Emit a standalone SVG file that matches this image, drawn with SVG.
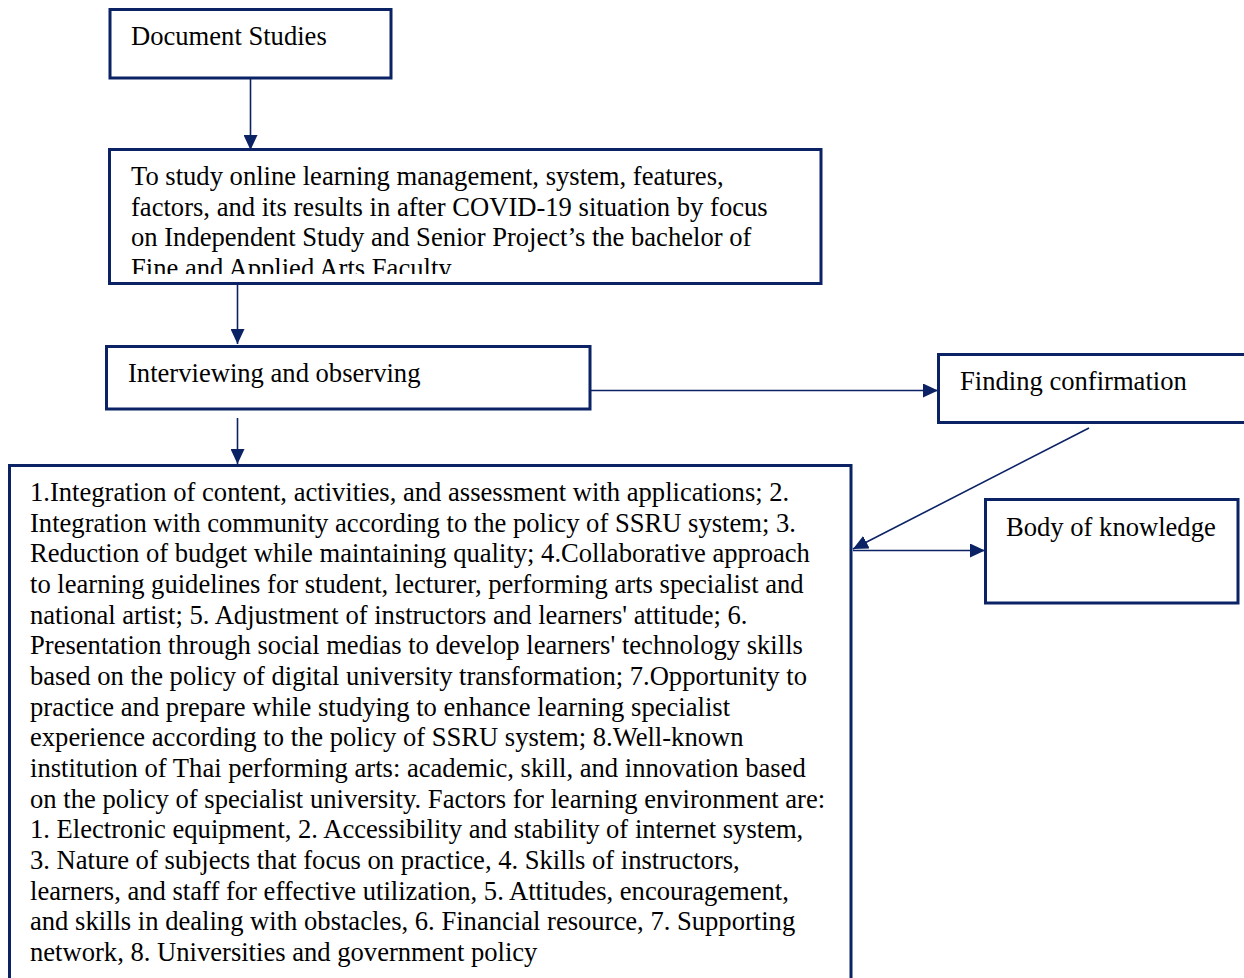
<svg xmlns="http://www.w3.org/2000/svg" width="1244" height="978" viewBox="0 0 1244 978">
<style>
.box{fill:#ffffff;stroke:#0b2265;stroke-width:3}
.t{font-family:"Liberation Serif","Times New Roman",serif;font-size:26.6px;fill:#000000}
.c{fill:none;stroke:#0b2265;stroke-width:1.6}
</style>
<defs>
<marker id="ah" markerUnits="userSpaceOnUse" markerWidth="16" markerHeight="14" refX="15" refY="7" orient="auto">
<path d="M0,0 L15,7 L0,14 Z" fill="#0b2265"/>
</marker>
<clipPath id="clip2"><rect x="110" y="150" width="710" height="124"/></clipPath>
</defs>
<rect width="1244" height="978" fill="#ffffff"/>
<g id="connectors">
<line class="c" x1="250.5" y1="78" x2="250.5" y2="150" marker-end="url(#ah)"/>
<line class="c" x1="237.5" y1="284" x2="237.5" y2="344" marker-end="url(#ah)"/>
<line class="c" x1="237.5" y1="418" x2="237.5" y2="464" marker-end="url(#ah)"/>
<line class="c" x1="590" y1="390.5" x2="938" y2="390.5" marker-end="url(#ah)"/>
<line class="c" x1="1089" y1="428" x2="853" y2="549" marker-end="url(#ah)"/>
<line class="c" x1="853" y1="550.5" x2="985" y2="550.5" marker-end="url(#ah)"/>
</g>
<g id="document-studies">
<rect class="box" x="110" y="9.5" width="281" height="68.5"/>
<text class="t" x="131" y="45">Document Studies</text>
</g>
<g id="to-study">
<rect class="box" x="109.5" y="149.5" width="711.5" height="134"/>
<g clip-path="url(#clip2)">
<text class="t" x="131" y="185">To study online learning management, system, features,</text>
<text class="t" x="131" y="215.5">factors, and its results in after COVID-19 situation by focus</text>
<text class="t" x="131" y="246">on Independent Study and Senior Project’s the bachelor of</text>
<text class="t" x="131" y="276.5">Fine and Applied Arts Faculty</text>
</g>
</g>
<g id="interviewing">
<rect class="box" x="106.5" y="346.5" width="483.5" height="62.5"/>
<text class="t" x="128" y="382">Interviewing and observing</text>
</g>
<g id="finding-confirmation">
<rect class="box" x="938.5" y="354.5" width="320" height="68"/>
<text class="t" x="960" y="390">Finding confirmation</text>
</g>
<g id="body-of-knowledge">
<rect class="box" x="985.5" y="499.5" width="252.5" height="103.5"/>
<text class="t" x="1006" y="536">Body of knowledge</text>
</g>
<g id="results">
<rect class="box" x="9.5" y="465.5" width="841.5" height="530"/>
<text class="t" x="30">
<tspan x="30" y="501">1.Integration of content, activities, and assessment with applications; 2.</tspan>
<tspan x="30" y="531.7">Integration with community according to the policy of SSRU system; 3.</tspan>
<tspan x="30" y="562.3">Reduction of budget while maintaining quality; 4.Collaborative approach</tspan>
<tspan x="30" y="593">to learning guidelines for student, lecturer, performing arts specialist and</tspan>
<tspan x="30" y="623.6">national artist; 5. Adjustment of instructors and learners' attitude; 6.</tspan>
<tspan x="30" y="654.3">Presentation through social medias to develop learners' technology skills</tspan>
<tspan x="30" y="684.9">based on the policy of digital university transformation; 7.Opportunity to</tspan>
<tspan x="30" y="715.6">practice and prepare while studying to enhance learning specialist</tspan>
<tspan x="30" y="746.2">experience according to the policy of SSRU system; 8.Well-known</tspan>
<tspan x="30" y="776.9">institution of Thai performing arts: academic, skill, and innovation based</tspan>
<tspan x="30" y="807.5">on the policy of specialist university. Factors for learning environment are:</tspan>
<tspan x="30" y="838.2">1. Electronic equipment, 2. Accessibility and stability of internet system,</tspan>
<tspan x="30" y="868.8">3. Nature of subjects that focus on practice, 4. Skills of instructors,</tspan>
<tspan x="30" y="899.5">learners, and staff for effective utilization, 5. Attitudes, encouragement,</tspan>
<tspan x="30" y="930.1">and skills in dealing with obstacles, 6. Financial resource, 7. Supporting</tspan>
<tspan x="30" y="960.8">network, 8. Universities and government policy</tspan>
</text>
</g>
</svg>
